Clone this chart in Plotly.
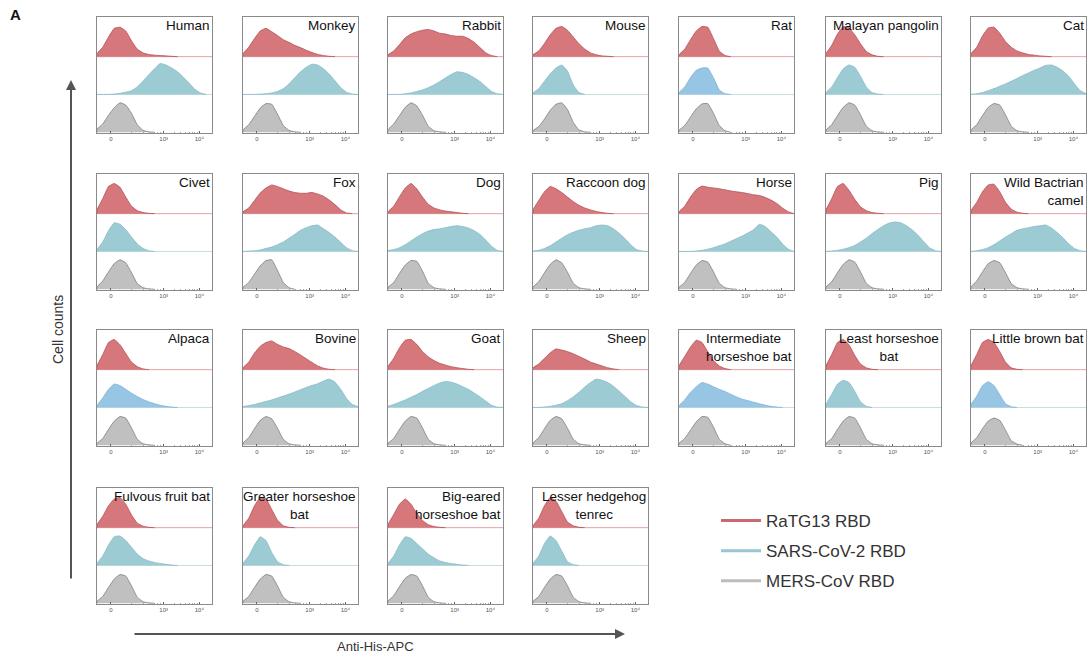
import plotly.graph_objects as go

# ---------------- data ----------------
species = ["Human", "Monkey", "Rabbit", "Mouse", "Rat", "Malayan pangolin", "Cat",
           "Civet", "Fox", "Dog", "Raccoon dog", "Horse", "Pig", "Wild Bactrian<br>camel",
           "Alpaca", "Bovine", "Goat", "Sheep", "Intermediate<br>horseshoe bat",
           "Least horseshoe<br>bat", "Little brown bat",
           "Fulvous fruit bat", "Greater horseshoe<br>bat", "Big-eared<br>horseshoe bat",
           "Lesser hedgehog<br>tenrec"]

# fluorescence bins (fraction of the log display axis)
bins = [0.00, 0.05, 0.10, 0.15, 0.20, 0.25, 0.30, 0.35, 0.40, 0.45, 0.50,
        0.55, 0.60, 0.65, 0.70, 0.75, 0.80, 0.85, 0.90, 0.95, 1.00]

tick_vals = [0.12, 0.58, 0.89]
tick_text = ["0", "10³", "10⁴"]

# cell counts (% of mode) per bin
ratg13 = [
    [8, 25, 52, 75, 78, 68, 42, 20, 10, 6, 4, 3, 2, 1, 0],
    [8, 25, 48, 68, 75, 66, 56, 45, 38, 30, 24, 17, 11, 6, 3, 1, 0],
    [5, 15, 32, 50, 60, 66, 70, 72, 68, 62, 60, 56, 54, 54, 48, 38, 24, 10, 3, 0],
    [5, 15, 35, 58, 75, 80, 70, 52, 34, 20, 10, 5, 2, 1, 0],
    [5, 20, 45, 68, 80, 78, 48, 15, 3, 0],
    [8, 30, 60, 80, 76, 58, 34, 14, 5, 1, 0],
    [8, 25, 55, 76, 78, 62, 40, 25, 15, 10, 6, 4, 2, 1, 0],
    [10, 40, 72, 80, 70, 44, 20, 8, 3, 1, 0],
    [5, 15, 35, 55, 68, 76, 72, 66, 60, 56, 54, 54, 56, 52, 46, 36, 24, 10, 2, 0],
    [5, 20, 45, 68, 80, 66, 44, 25, 15, 10, 7, 5, 3, 1, 0],
    [10, 35, 58, 72, 66, 56, 44, 32, 22, 15, 10, 6, 3, 1, 0],
    [5, 20, 44, 64, 73, 70, 68, 66, 63, 60, 58, 56, 53, 50, 48, 43, 36, 27, 15, 5, 0],
    [10, 40, 72, 80, 62, 38, 18, 8, 3, 1, 0],
    [8, 30, 58, 76, 78, 58, 30, 12, 4, 1, 0],
    [10, 40, 72, 80, 66, 43, 20, 8, 2, 0],
    [5, 20, 44, 62, 72, 76, 67, 60, 56, 48, 39, 29, 19, 10, 4, 1, 0],
    [8, 30, 58, 78, 80, 67, 48, 34, 24, 17, 12, 8, 5, 3, 1, 0],
    [5, 15, 30, 45, 55, 52, 48, 42, 35, 28, 20, 15, 10, 5, 2, 0],
    [10, 35, 60, 78, 72, 48, 24, 10, 3, 0],
    [10, 40, 72, 80, 66, 38, 15, 5, 1, 0],
    [10, 40, 72, 80, 72, 48, 20, 5, 1, 0],
    [8, 30, 58, 76, 80, 62, 34, 12, 4, 1, 0],
    [5, 25, 58, 80, 76, 48, 20, 5, 1, 0],
    [8, 35, 62, 76, 62, 38, 19, 8, 3, 1, 0],
    [5, 25, 58, 80, 70, 43, 15, 5, 1, 0],
]

sars2 = [
    [0, 0, 0, 1, 3, 6, 10, 20, 35, 52, 68, 82, 78, 70, 60, 46, 30, 14, 4, 0],
    [0, 0, 0, 1, 2, 4, 8, 15, 28, 44, 60, 72, 80, 78, 68, 54, 36, 18, 6, 1, 0],
    [0, 0, 0, 2, 4, 8, 12, 18, 25, 34, 44, 53, 60, 58, 53, 44, 34, 21, 8, 2, 0],
    [4, 15, 35, 55, 70, 78, 62, 25, 5, 0],
    [5, 20, 45, 64, 70, 70, 44, 12, 2, 0],
    [5, 20, 45, 68, 78, 72, 48, 20, 5, 1, 0],
    [0, 2, 5, 10, 15, 22, 28, 35, 42, 50, 57, 64, 70, 77, 78, 72, 62, 48, 28, 10, 2],
    [5, 25, 55, 76, 72, 58, 38, 20, 8, 2, 0],
    [0, 1, 2, 4, 8, 12, 18, 25, 35, 45, 56, 63, 68, 70, 60, 50, 38, 24, 10, 2, 0],
    [2, 5, 10, 18, 28, 38, 47, 54, 58, 60, 63, 66, 68, 66, 62, 55, 45, 30, 14, 3, 0],
    [1, 3, 8, 15, 25, 35, 44, 51, 56, 60, 63, 68, 70, 68, 60, 48, 34, 18, 5, 1, 0],
    [0, 0, 0, 1, 3, 6, 10, 15, 20, 27, 34, 41, 49, 58, 72, 66, 52, 38, 20, 6, 0],
    [0, 1, 3, 6, 10, 16, 25, 35, 47, 58, 68, 75, 78, 76, 68, 57, 43, 26, 10, 2, 0],
    [0, 2, 5, 10, 18, 28, 38, 47, 56, 60, 63, 66, 68, 70, 62, 50, 36, 20, 8, 2, 0],
    [5, 25, 48, 62, 58, 48, 38, 29, 21, 15, 10, 6, 3, 1, 0],
    [2, 5, 8, 12, 16, 20, 25, 30, 35, 41, 47, 53, 58, 63, 70, 75, 67, 48, 24, 8, 2],
    [3, 8, 14, 20, 27, 34, 43, 50, 58, 65, 69, 67, 62, 55, 48, 38, 28, 17, 6, 1, 0],
    [0, 0, 1, 3, 6, 10, 18, 28, 40, 54, 66, 75, 72, 66, 56, 43, 29, 15, 5, 1, 0],
    [5, 20, 40, 55, 66, 62, 55, 48, 42, 35, 28, 22, 18, 14, 10, 6, 3, 1, 0],
    [8, 35, 62, 72, 66, 43, 15, 3, 0],
    [8, 30, 58, 68, 58, 34, 10, 2, 0],
    [5, 25, 54, 76, 78, 66, 48, 30, 18, 12, 8, 5, 3, 1, 0],
    [5, 25, 54, 76, 66, 34, 10, 2, 0],
    [5, 25, 54, 76, 72, 58, 44, 30, 20, 12, 8, 5, 3, 1, 0],
    [5, 25, 58, 78, 66, 38, 10, 2, 0],
]

mers = [
    [8, 22, 45, 65, 78, 72, 50, 20, 5, 1, 0],
    [6, 20, 42, 64, 76, 74, 48, 18, 5, 1, 0],
    [7, 22, 44, 66, 78, 70, 45, 16, 4, 1, 0],
    [4, 15, 35, 58, 74, 78, 60, 26, 6, 1, 0],
    [5, 18, 40, 62, 75, 76, 50, 18, 4, 0],
    [6, 20, 44, 66, 78, 72, 46, 16, 4, 1, 0],
    [6, 20, 44, 66, 76, 72, 46, 16, 4, 1, 0],
    [6, 22, 46, 68, 78, 70, 44, 15, 4, 1, 0],
    [5, 18, 40, 62, 76, 78, 50, 18, 4, 0],
    [5, 18, 42, 64, 76, 74, 48, 16, 4, 1, 0],
    [6, 20, 44, 66, 78, 70, 45, 16, 4, 1, 0],
    [5, 18, 42, 64, 76, 72, 46, 16, 4, 1, 0],
    [6, 20, 44, 66, 78, 72, 46, 16, 4, 1, 0],
    [6, 22, 46, 68, 76, 70, 44, 15, 4, 1, 0],
    [5, 18, 42, 64, 76, 72, 46, 16, 4, 1, 0],
    [6, 20, 44, 66, 76, 70, 45, 16, 4, 1, 0],
    [5, 18, 42, 64, 76, 72, 46, 16, 4, 1, 0],
    [6, 20, 44, 66, 76, 70, 45, 16, 4, 1, 0],
    [5, 18, 40, 62, 76, 74, 48, 16, 4, 0],
    [5, 18, 42, 64, 76, 72, 46, 16, 4, 1, 0],
    [6, 20, 44, 64, 72, 66, 40, 12, 3, 0],
    [5, 18, 42, 64, 76, 72, 46, 16, 4, 1, 0],
    [5, 18, 42, 64, 76, 72, 46, 16, 4, 1, 0],
    [6, 20, 44, 66, 76, 72, 46, 16, 4, 1, 0],
    [5, 18, 42, 64, 76, 72, 46, 16, 4, 1, 0],
]

series_names = ["RaTG13 RBD", "SARS-CoV-2 RBD", "MERS-CoV RBD"]

# ---------------- style ----------------
W, H = 1089, 653
col_left = [97, 243, 388, 533, 679, 826, 971]
row_top = [17, 174, 330, 488]
PW, PH = 115, 116

RED_FILL, RED_LINE = "#d5777b", "#b24e54"
TEAL_FILL, TEAL_LINE = "#9dcbd4", "#86b9c4"
SKY_FILL, SKY_LINE = "#97c5e4", "#7fb1d6"
GRAY_FILL, GRAY_LINE = "#c0c0c0", "#7d7d7d"
sky_panels = {4, 14, 18, 20}
center_title = {19, 22, 24}
left_title = {18}

FONT = "Liberation Sans, Arial, sans-serif"
minor_vals = [0.30, 0.40, 0.46, 0.50, 0.53, 0.55, 0.67, 0.73, 0.77, 0.80, 0.83, 0.85, 0.87]

fig = go.Figure()
layout = dict(width=W, height=H, margin=dict(l=0, r=0, t=0, b=0),
              paper_bgcolor="white", plot_bgcolor="white",
              font=dict(family=FONT, color="#333"))
shapes = []
annotations = []

for k in range(len(species)):
    r, c = divmod(k, 7)
    x0, y0 = col_left[c], row_top[r]
    sfx = "" if k == 0 else str(k + 1)
    layout["xaxis" + sfx] = dict(
        domain=[x0 / W, (x0 + PW) / W], range=[0, 1], anchor="y" + sfx,
        showgrid=False, zeroline=False, showline=True, mirror=True,
        linecolor="#8a8a8a", linewidth=1,
        tickmode="array", tickvals=tick_vals, ticktext=tick_text,
        ticks="inside", ticklen=2, tickcolor="#666",
        tickfont=dict(size=6, color="#555"),
        minor=dict(tickvals=minor_vals, ticks="inside", ticklen=1.5, tickcolor="#aaa"),
        fixedrange=True)
    layout["yaxis" + sfx] = dict(
        domain=[1 - (y0 + PH) / H, 1 - y0 / H], range=[-0.02, 3.05], anchor="x" + sfx,
        showgrid=False, zeroline=False, showline=True, mirror=True,
        linecolor="#8a8a8a", linewidth=1, showticklabels=False, ticks="",
        fixedrange=True)

    blue_fill, blue_line = (SKY_FILL, SKY_LINE) if k in sky_panels else (TEAL_FILL, TEAL_LINE)
    lanes = [(2, ratg13[k], RED_FILL, RED_LINE),
             (1, sars2[k], blue_fill, blue_line),
             (0, mers[k], GRAY_FILL, GRAY_LINE)]
    for base, vals, fc, lc in lanes:
        xs = bins[:len(vals)]
        px = [xs[0]] + xs + [xs[-1]]
        py = [base] + [base + v / 100 for v in vals] + [base]
        fig.add_trace(go.Scatter(
            x=px, y=py, mode="lines", fill="toself", fillcolor=fc,
            line=dict(color=lc, width=0.8, shape="spline", smoothing=0.35),
            hoverinfo="skip", showlegend=False,
            xaxis="x" + sfx, yaxis="y" + sfx))

    shapes.append(dict(type="line", xref="x" + sfx, yref="y" + sfx, x0=0, x1=1, y0=2, y1=2,
                       line=dict(color="#e3a3a6", width=1), layer="below"))
    shapes.append(dict(type="line", xref="x" + sfx, yref="y" + sfx, x0=0, x1=1, y0=1, y1=1,
                       line=dict(color="#c6dde2", width=1), layer="below"))

    align = "center" if k in center_title else ("left" if k in left_title else "right")
    annotations.append(dict(
        text=species[k], xref="x" + sfx + " domain", yref="y" + sfx + " domain",
        x=0.99, y=1.0, xanchor="right", yanchor="top", showarrow=False,
        align=align, borderpad=0, font=dict(size=13.5, color="#111", family=FONT)))

# legend entries
legend_colors = ["#c96a6f", "#98c6d1", "#bdbdbd"]
for i, (nm, col) in enumerate(zip(series_names, legend_colors)):
    fig.add_trace(go.Scatter(x=[None], y=[None], mode="lines", name=nm,
                             line=dict(color=col, width=3), legendgroup=str(i),
                             xaxis="x", yaxis="y"))

layout["legend"] = dict(x=716 / W, y=1 - 503 / H, xanchor="left", yanchor="top",
                        font=dict(size=17, color="#333", family=FONT),
                        bgcolor="rgba(0,0,0,0)", tracegroupgap=5, itemwidth=40)

# axis arrows and labels
annotations.append(dict(x=71 / W, y=1 - 80 / H, ax=0, ay=500,
                        xref="paper", yref="paper", axref="pixel", ayref="pixel",
                        text="", showarrow=True, arrowhead=2, arrowsize=1,
                        arrowwidth=2, arrowcolor="#555"))
annotations.append(dict(x=625 / W, y=1 - 634 / H, ax=-492, ay=0,
                        xref="paper", yref="paper", axref="pixel", ayref="pixel",
                        text="", showarrow=True, arrowhead=2, arrowsize=1,
                        arrowwidth=2, arrowcolor="#555"))
annotations.append(dict(text="Cell counts", x=58 / W, y=1 - 330 / H, xref="paper", yref="paper",
                        textangle=-90, showarrow=False, xanchor="center", yanchor="middle",
                        font=dict(size=14, color="#333", family=FONT)))
annotations.append(dict(text="Anti-His-APC", x=376 / W, y=1 - 637 / H, xref="paper", yref="paper",
                        showarrow=False, xanchor="center", yanchor="top",
                        font=dict(size=13, color="#333", family=FONT)))
annotations.append(dict(text="<b>A</b>", x=8 / W, y=1 - 4 / H, xref="paper", yref="paper",
                        showarrow=False, xanchor="left", yanchor="top",
                        font=dict(size=15, color="#111", family=FONT)))

layout["shapes"] = shapes
layout["annotations"] = annotations
fig.update_layout(**layout)
fig.write_html("out.html")
